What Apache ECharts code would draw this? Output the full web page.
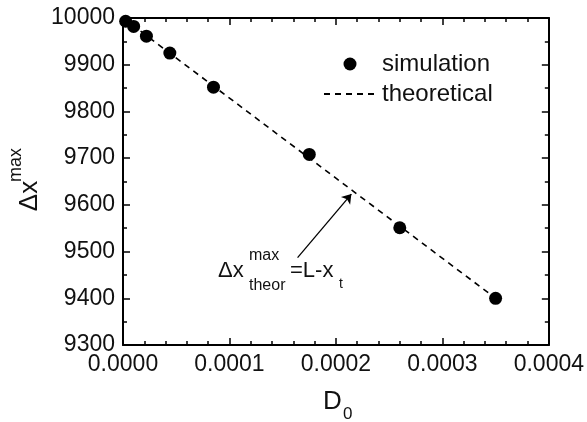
<!DOCTYPE html>
<html>
<head>
<meta charset="utf-8">
<script src="https://cdn.jsdelivr.net/npm/echarts@6/dist/echarts.min.js"></script>
<style>html,body{margin:0;padding:0;background:#fff}#c{width:587px;height:422px}</style>
</head>
<body>
<div id="c"></div>
<script>
// Simulation points (D0, Δx^max)
const d0Sim = [0.0000025, 0.00001, 0.000022, 0.000044, 0.000085, 0.000175, 0.00026, 0.00035];
const dxSim = [9993, 9982, 9961, 9925, 9852, 9708, 9551, 9400];
// Theoretical line endpoints
const d0Theory = [0, 0.00035];
const dxTheory = [10000, 9400];
// Arrow annotation (data coords: tail, head)
const arrowFrom = [0.000164, 9487];
const arrowTo = [0.0002145, 9623];
// Axis ticks
const xTicks = [0, 0.0001, 0.0002, 0.0003, 0.0004];
const yTicks = [9300, 9400, 9500, 9600, 9700, 9800, 9900, 10000];

const FONT = 'Liberation Sans';
const chart = echarts.init(document.getElementById('c'), null, {renderer: 'canvas'});

function axisCommon(showLabel, pos) {
  return {
    position: pos,
    axisLine: {show: true, onZero: false, lineStyle: {color: '#000', width: 2}},
    axisTick: {show: true, inside: true, length: 7, lineStyle: {color: '#000', width: 1.5}},
    minorTick: {show: true, length: 4, lineStyle: {color: '#000', width: 1.5}},
    splitLine: {show: false},
    minorSplitLine: {show: false},
    axisLabel: {show: showLabel, fontFamily: FONT, fontSize: 23, color: '#111', margin: 8}
  };
}

const xBase = {type: 'value', min: xTicks[0], max: xTicks[xTicks.length - 1], interval: xTicks[1] - xTicks[0]};
const yBase = {type: 'value', min: yTicks[0], max: yTicks[yTicks.length - 1], interval: yTicks[1] - yTicks[0]};

const xa0 = Object.assign({}, xBase, axisCommon(true, 'bottom'));
xa0.minorTick.splitNumber = 5;
xa0.axisLabel.formatter = v => v.toFixed(4);
const xa1 = Object.assign({}, xBase, axisCommon(false, 'top'));
xa1.minorTick.splitNumber = 5;
const ya0 = Object.assign({}, yBase, axisCommon(true, 'left'));
ya0.minorTick.splitNumber = 2;
ya0.axisLabel.formatter = v => String(Math.round(v));
const ya1 = Object.assign({}, yBase, axisCommon(false, 'right'));
ya1.minorTick.splitNumber = 2;

const option = {
  animation: false,
  backgroundColor: '#fff',
  grid: {left: 123, right: 37, top: 18, bottom: 77, containLabel: false},
  xAxis: [xa0, xa1],
  yAxis: [ya0, ya1],
  legend: {
    data: ['simulation', {name: 'theoretical', itemStyle: {opacity: 0}}],
    orient: 'vertical',
    left: 318, top: 47,
    itemWidth: 52, itemHeight: 13, itemGap: 6,
    textStyle: {fontFamily: FONT, fontSize: 24, color: '#111', padding: [0, 0, 0, 1]},
    selectedMode: false
  },
  series: [
    {
      name: 'theoretical', type: 'line', xAxisIndex: 0, yAxisIndex: 0,
      data: d0Theory.map((x, i) => [x, dxTheory[i]]),
      symbol: 'none', showSymbol: false,
      lineStyle: {color: '#000', width: 1.6, type: [6, 5]},
      itemStyle: {color: '#000'},
      z: 2,
      markLine: {
        silent: true, symbol: ['none', 'arrow'], symbolSize: 9,
        label: {show: false},
        lineStyle: {color: '#000', width: 1.3, type: 'solid'},
        data: [[{coord: arrowFrom}, {coord: arrowTo}]]
      }
    },
    {
      name: 'simulation', type: 'scatter', xAxisIndex: 0, yAxisIndex: 0,
      data: d0Sim.map((x, i) => [x, dxSim[i]]),
      symbol: 'circle', symbolSize: 13,
      itemStyle: {color: '#000', opacity: 1},
      z: 3
    }
  ],
  graphic: [
    // y-axis title Δx^max (rotated)
    {type: 'text', x: 30, y: 196, rotation: Math.PI / 2,
     style: {text: 'Δx', font: '26px "Liberation Sans"', fill: '#111', align: 'center', verticalAlign: 'middle'}},
    {type: 'text', x: 16, y: 165, rotation: Math.PI / 2,
     style: {text: 'max', font: '18px "Liberation Sans"', fill: '#111', align: 'center', verticalAlign: 'middle'}},
    // x-axis title D0
    {type: 'text', x: 323, y: 402,
     style: {text: 'D', font: '26px "Liberation Sans"', fill: '#111', align: 'left', verticalAlign: 'middle'}},
    {type: 'text', x: 343, y: 414,
     style: {text: '0', font: '17px "Liberation Sans"', fill: '#111', align: 'left', verticalAlign: 'middle'}},
    // annotation
    {type: 'text', x: 218, y: 271,
     style: {text: 'Δx', font: '22px "Liberation Sans"', fill: '#111', align: 'left', verticalAlign: 'middle'}},
    {type: 'text', x: 249, y: 256,
     style: {text: 'max', font: '16px "Liberation Sans"', fill: '#111', align: 'left', verticalAlign: 'middle'}},
    {type: 'text', x: 249, y: 285.5,
     style: {text: 'theor', font: '16px "Liberation Sans"', fill: '#111', align: 'left', verticalAlign: 'middle'}},
    {type: 'text', x: 290, y: 271,
     style: {text: '=L-x', font: '22px "Liberation Sans"', fill: '#111', align: 'left', verticalAlign: 'middle'}},
    {type: 'text', x: 339, y: 284,
     style: {text: 't', font: '14px "Liberation Sans"', fill: '#111', align: 'left', verticalAlign: 'middle'}}
  ]
};
chart.setOption(option);
</script>
</body>
</html>
